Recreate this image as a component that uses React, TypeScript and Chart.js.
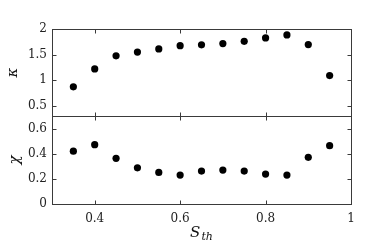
import React, { useEffect, useRef } from "react";
import { Chart, registerables } from "chart.js";

Chart.register(...registerables);

const sth = [0.35, 0.4, 0.45, 0.5, 0.55, 0.6, 0.65, 0.7, 0.75, 0.8, 0.85, 0.9, 0.95];
const kappa = [0.87, 1.22, 1.475, 1.55, 1.61, 1.675, 1.69, 1.715, 1.76, 1.825, 1.885, 1.695, 1.09];
const chi = [0.42, 0.472, 0.363, 0.288, 0.251, 0.23, 0.262, 0.27, 0.262, 0.238, 0.23, 0.371, 0.464];

const xTicks = [0.4, 0.6, 0.8, 1];
const kappaTicks = [0.5, 1, 1.5, 2];
const chiTicks = [0, 0.2, 0.4, 0.6];

const FONT = "DejaVu Serif, serif";

export default function App() {
  const ref = useRef<HTMLCanvasElement | null>(null);

  useEffect(() => {
    const canvas = ref.current;
    if (!canvas) return;

    const framePlugin = {
      id: "frame",
      afterDraw(chart: any) {
        const { ctx, chartArea } = chart;
        const x = chart.scales.x;
        const panels = [chart.scales.y1, chart.scales.y2];
        const tick = 4;
        ctx.save();
        ctx.strokeStyle = "#3a3a3a";
        ctx.lineWidth = 1;
        for (const p of panels) {
          const top = Math.round(p.top) + 0.5;
          const bottom = Math.round(p.bottom) + 0.5;
          const left = Math.round(chartArea.left) + 0.5;
          const right = Math.round(chartArea.right) + 0.5;
          ctx.strokeRect(left, top, right - left, bottom - top);
          ctx.beginPath();
          for (const v of xTicks) {
            const px = Math.round(x.getPixelForValue(v)) + 0.5;
            ctx.moveTo(px, top);
            ctx.lineTo(px, top + tick);
            ctx.moveTo(px, bottom);
            ctx.lineTo(px, bottom - tick);
          }
          const vals = p.id === "y1" ? kappaTicks : chiTicks;
          for (const v of vals) {
            const py = Math.round(p.getPixelForValue(v)) + 0.5;
            ctx.moveTo(left, py);
            ctx.lineTo(left + tick, py);
            ctx.moveTo(right, py);
            ctx.lineTo(right - tick, py);
          }
          ctx.stroke();
        }
        // x axis title with subscript
        const cx = (chartArea.left + chartArea.right) / 2;
        const base = 237;
        ctx.fillStyle = "#111";
        ctx.textBaseline = "alphabetic";
        ctx.textAlign = "left";
        ctx.font = `italic 15px ${FONT}`;
        const sW = ctx.measureText("S").width;
        ctx.font = `italic 11px ${FONT}`;
        const tW = ctx.measureText("th").width;
        const start = cx - (sW + tW + 1) / 2;
        ctx.font = `italic 15px ${FONT}`;
        ctx.fillText("S", start, base);
        ctx.font = `italic 11px ${FONT}`;
        ctx.fillText("th", start + sW + 1, base + 3);
        ctx.restore();
      },
    };

    const tickFont = { family: FONT, size: 12 };
    const titleFont = { family: FONT, size: 15, style: "italic" as const };

    const chart = new Chart(canvas, {
      type: "scatter",
      data: {
        datasets: [
          {
            data: sth.map((s, i) => ({ x: s, y: kappa[i] })),
            yAxisID: "y1",
            backgroundColor: "#000",
            borderColor: "#000",
            pointRadius: 3.6,
            borderWidth: 0,
          },
          {
            data: sth.map((s, i) => ({ x: s, y: chi[i] })),
            yAxisID: "y2",
            backgroundColor: "#000",
            borderColor: "#000",
            pointRadius: 3.6,
            borderWidth: 0,
          },
        ],
      },
      options: {
        animation: false,
        responsive: false,
        devicePixelRatio: 1,
        layout: { padding: { top: 29, right: 23, left: 0, bottom: 0 } },
        plugins: { legend: { display: false }, tooltip: { enabled: false } },
        scales: {
          x: {
            type: "linear",
            min: 0.3,
            max: 1,
            grid: { display: false, drawTicks: false },
            border: { display: false },
            afterBuildTicks: (s: any) => {
              s.ticks = xTicks.map((v) => ({ value: v }));
            },
            afterFit: (s: any) => {
              s.height = 45;
            },
            ticks: {
              font: tickFont,
              color: "#222",
              padding: 8,
              maxRotation: 0,
              autoSkip: false,
              callback: (v: any) => String(v),
            },
          },
          y2: {
            type: "linear",
            position: "left",
            stack: "panels",
            stackWeight: 88,
            min: 0,
            max: 0.7,
            grid: { display: false, drawTicks: false },
            border: { display: false },
            afterBuildTicks: (s: any) => {
              s.ticks = chiTicks.map((v) => ({ value: v }));
            },
            afterFit: (s: any) => {
              s.width = 52;
            },
            ticks: {
              font: tickFont,
              color: "#222",
              padding: 5,
              autoSkip: false,
              callback: (v: any) => String(v),
            },
            title: { display: true, text: "χ", font: titleFont, color: "#111", padding: { top: 6, bottom: 0 } },
          },
          y1: {
            type: "linear",
            position: "left",
            stack: "panels",
            stackWeight: 87,
            min: 0.3,
            max: 2,
            grid: { display: false, drawTicks: false },
            border: { display: false },
            afterBuildTicks: (s: any) => {
              s.ticks = kappaTicks.map((v) => ({ value: v }));
            },
            afterFit: (s: any) => {
              s.width = 52;
            },
            ticks: {
              font: tickFont,
              color: "#222",
              padding: 5,
              autoSkip: false,
              callback: (v: any) => String(v),
            },
            title: { display: true, text: "κ", font: titleFont, color: "#111", padding: { top: 4, bottom: 0 } },
          },
        },
      },
      plugins: [framePlugin],
    });

    return () => chart.destroy();
  }, []);

  return (
    <div style={{ position: "fixed", left: 0, top: 0, width: 374, height: 249, background: "#fff" }}>
      <canvas ref={ref} width={374} height={249} style={{ display: "block", width: 374, height: 249 }} />
    </div>
  );
}
